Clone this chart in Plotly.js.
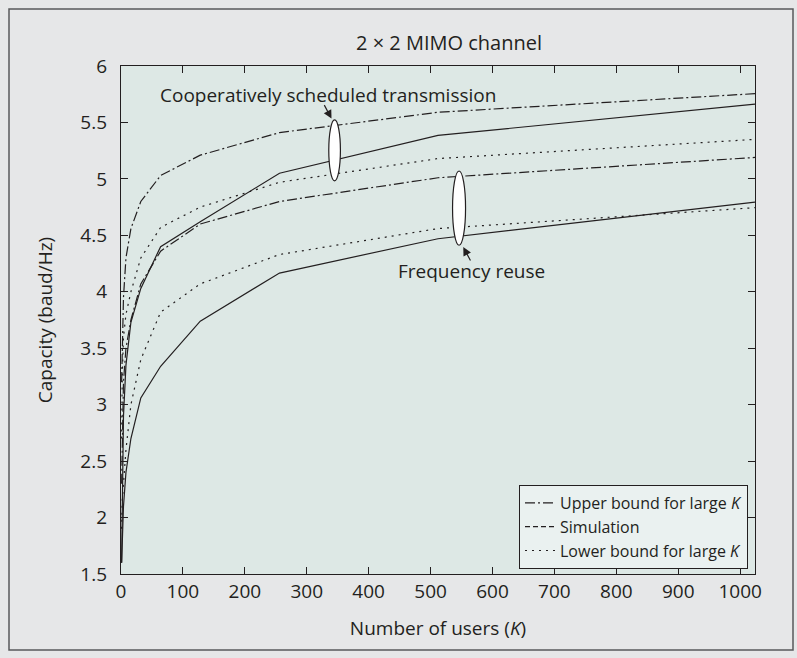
<!DOCTYPE html>
<html>
<head>
<meta charset="utf-8">
<script src="https://cdn.plot.ly/plotly-3.0.1.min.js"></script>
<style>
  html, body { margin: 0; padding: 0; background: #e6e7e8; }
  #chart { width: 797px; height: 658px; }
</style>
</head>
<body>
<div id="chart"></div>
<script>
// ---- data ----
const users = [1, 2, 4, 8, 16, 32, 64, 128, 256, 512, 1024];

// Cooperatively scheduled transmission
const csUpper = [3.2, 3.6, 3.95, 4.3, 4.56, 4.8, 5.03, 5.21, 5.41, 5.59, 5.755];
const csSim   = [1.6, 2.3, 2.9, 3.35, 3.73, 4.03, 4.40, 4.62, 5.05, 5.385, 5.663];
const csLower = [2.7, 3.25, 3.6, 3.8, 4.0, 4.3, 4.57, 4.75, 4.97, 5.18, 5.35];

// Frequency reuse
const frUpper = [2.3, 2.8, 3.2, 3.5, 3.75, 4.07, 4.36, 4.6, 4.8, 5.01, 5.19];
const frSim   = [1.6, 1.85, 2.1, 2.4, 2.7, 3.06, 3.34, 3.74, 4.166, 4.47, 4.795];
const frLower = [1.9, 2.15, 2.3, 2.6, 3.0, 3.4, 3.82, 4.07, 4.33, 4.56, 4.745];

const legendNames = ['Upper bound for large <i>K</i>', 'Simulation', 'Lower bound for large <i>K</i>'];
const xTickVals = [0, 100, 200, 300, 400, 500, 600, 700, 800, 900, 1000];
const yTickVals = [1.5, 2, 2.5, 3, 3.5, 4, 4.5, 5, 5.5, 6];

// annotation anchors (data coords)
const csLabel = {x: 334, y: 5.74, text: 'Cooperatively scheduled transmission'};
const frLabel = {x: 566, y: 4.18, text: 'Frequency reuse'};
const csEllipse = {xc: 345, yc: 5.253, rx: 9.4, ry: 0.27};
const frEllipse = {xc: 546, yc: 4.741, rx: 10.5, ry: 0.329};
const csArrow = {x: 340, y: 5.534, ax: -8, ay: -15};
const frArrow = {x: 552.8, y: 4.396, ax: 8, ay: 15};

// ---- styles ----
const ink = '#231f20';
const DASHDOT = '10px,3px,2px,3px';
const DOT = '2px,5px';
const DASH = '5px,3px';
const FONT = '"Open Sans", "Noto Sans", sans-serif';

function line(y, dash) {
  return {
    x: users, y: y, type: 'scatter', mode: 'lines', showlegend: false,
    line: {color: ink, width: 1.2, dash: dash}, hoverinfo: 'skip'
  };
}
function legendOnly(name, dash) {
  return {
    x: [null], y: [null], type: 'scatter', mode: 'lines', name: name,
    line: {color: ink, width: 1.2, dash: dash}
  };
}

const traces = [
  line(csUpper, DASHDOT), line(csSim, 'solid'), line(csLower, DOT),
  line(frUpper, DASHDOT), line(frSim, 'solid'), line(frLower, DOT),
  legendOnly(legendNames[0], DASHDOT),
  legendOnly(legendNames[1], DASH),
  legendOnly(legendNames[2], DOT)
];

// margins / frame
const M = {l: 121, r: 42, t: 66, b: 84};
const W = 797 - M.l - M.r, H = 658 - M.t - M.b;
const px2paperX = px => (px - M.l) / W;
const px2paperY = py => (658 - M.b - py) / H;

const layout = {
  width: 797, height: 658,
  margin: M,
  paper_bgcolor: '#e6e7e8',
  plot_bgcolor: '#dde8e5',
  font: {family: FONT, size: 19, color: ink},
  title: {
    text: '2 × 2 MIMO channel',
    font: {family: FONT, size: 20, color: ink},
    x: px2paperX(449), xref: 'paper', xanchor: 'center',
    y: 1 - 43 / 658, yanchor: 'middle'
  },
  xaxis: {
    range: [0, 1024], tickvals: xTickVals, ticktext: xTickVals.map(String),
    ticks: 'inside', ticklen: 7, tickwidth: 1, tickcolor: ink,
    showline: true, linecolor: ink, linewidth: 1.2, mirror: 'ticks',
    showgrid: false, zeroline: false,
    tickfont: {size: 19}, ticklabelstandoff: 0,
    title: {text: 'Number of users (<i>K</i>)', font: {size: 19}, standoff: 18}
  },
  yaxis: {
    range: [1.5, 6], tickvals: yTickVals, ticktext: yTickVals.map(String),
    ticks: 'inside', ticklen: 7, tickwidth: 1, tickcolor: ink,
    showline: true, linecolor: ink, linewidth: 1.2, mirror: 'ticks',
    showgrid: false, zeroline: false,
    tickfont: {size: 19}, ticklabelstandoff: 9,
    title: {text: 'Capacity (baud/Hz)', font: {size: 19}, standoff: 22}
  },
  legend: {
    x: px2paperX(748), y: px2paperY(569), xanchor: 'right', yanchor: 'bottom',
    bgcolor: '#eaf1f0', bordercolor: ink, borderwidth: 1,
    font: {size: 16}, itemwidth: 30, tracegroupgap: 0
  },
  shapes: [
    {type: 'circle', xref: 'x', yref: 'y',
     x0: csEllipse.xc - csEllipse.rx, x1: csEllipse.xc + csEllipse.rx,
     y0: csEllipse.yc - csEllipse.ry, y1: csEllipse.yc + csEllipse.ry,
     fillcolor: '#ffffff', line: {color: ink, width: 1.2}},
    {type: 'circle', xref: 'x', yref: 'y',
     x0: frEllipse.xc - frEllipse.rx, x1: frEllipse.xc + frEllipse.rx,
     y0: frEllipse.yc - frEllipse.ry, y1: frEllipse.yc + frEllipse.ry,
     fillcolor: '#ffffff', line: {color: ink, width: 1.2}},
    {type: 'rect', xref: 'paper', yref: 'paper', layer: 'below',
     x0: px2paperX(9), x1: px2paperX(793), y0: px2paperY(650), y1: px2paperY(9),
     line: {color: '#58595b', width: 1.5}, fillcolor: 'rgba(0,0,0,0)'}
  ],
  annotations: [
    {x: csLabel.x, y: csLabel.y, xref: 'x', yref: 'y', text: csLabel.text,
     showarrow: false, font: {size: 19}, xanchor: 'center', yanchor: 'middle'},
    {x: frLabel.x, y: frLabel.y, xref: 'x', yref: 'y', text: frLabel.text,
     showarrow: false, font: {size: 19}, xanchor: 'center', yanchor: 'middle'},
    {x: csArrow.x, y: csArrow.y, xref: 'x', yref: 'y', text: '', showarrow: true,
     ax: csArrow.ax, ay: csArrow.ay, arrowhead: 2, arrowsize: 1.4, arrowwidth: 1.2,
     arrowcolor: ink, standoff: 0},
    {x: frArrow.x, y: frArrow.y, xref: 'x', yref: 'y', text: '', showarrow: true,
     ax: frArrow.ax, ay: frArrow.ay, arrowhead: 2, arrowsize: 1.4, arrowwidth: 1.2,
     arrowcolor: ink, standoff: 0}
  ]
};

Plotly.newPlot('chart', traces, layout, {displayModeBar: false, staticPlot: true});
</script>
</body>
</html>
